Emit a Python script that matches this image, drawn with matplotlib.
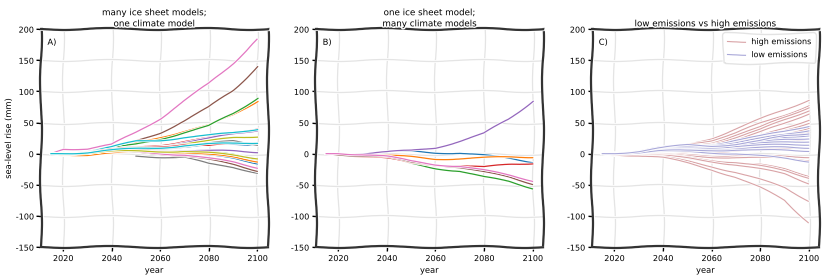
import matplotlib
matplotlib.use("Agg")
import matplotlib.pyplot as plt
import matplotlib.patheffects as pe
import numpy as np

nan = np.nan

years = [2015, 2020, 2030, 2040, 2050, 2060, 2070, 2080, 2090, 2100]

# A) many ice sheet models, one climate model (mm)
many_ice = [
    [0, 2, 3, 4, 6, 9, 11, 13, 14, 15],
    [0, 1, 2, 8, 17, 27, 36, 45, 62, 85],
    [0, 2, 3, 8, 15, 24, 34, 44, 64, 90],
    [0, 1, 3, 6, 10, 14, 20, 25, 32, 41],
    [0, 1, 2, 5, 8, 12, 18, 24, 31, 38],
    [0, 2, 4, 10, 20, 34, 53, 74, 102, 140],
    [0, 8, 8, 14, 34, 57, 85, 112, 146, 183],
    [nan, nan, nan, nan, -4, -5, -6, -17, -22, -30],
    [0, -1, -2, 2, 8, 12, 16, 20, 25, 28],
    [0, 2, 3, 10, 20, 22, 26, 29, 33, 40],
    [0, 2, 3, 4, 3, 2, 1, -3, -8, -15],
    [0, -1, -2, 0, 2, 3, 2, -2, -6, -12],
    [0, 1, 2, 3, 4, 5, 5, 2, -2, -8],
    [0, 1, 3, 6, 9, 12, 15, 12, 16, 18],
    [0, 1, 2, 3, 4, 5, 5, 4, 4, 3],
    [0, 1, 2, 3, 2, 0, -3, -10, -18, -27],
    [0, 1, 2, 3, 3, 1, -2, -8, -14, -22],
    [0, 1, 2, 4, 6, 9, 12, 16, 20, 15],
    [0, 0, 1, 3, 4, 4, 4, 1, -3, -7],
    [0, 1, 2, 5, 8, 10, 13, 15, 16, 18],
]

# B) one ice sheet model, many climate models (mm)
many_climate = [
    [0, 0, 0, 2, 4, 2, 1, -3, -8, -13],
    [0, 0, -2, -4, -5, -8, -8, -7, -6, -5],
    [0, -1, -3, -7, -16, -23, -28, -38, -45, -55],
    [0, -1, -4, -8, -15, -18, -19, -22, -18, -15],
    [0, 0, 0, 2, 5, 10, 20, 32, 55, 85],
    [0, -1, -3, -6, -14, -17, -22, -30, -38, -48],
    [0, 1, -1, -5, -12, -17, -20, -27, -35, -43],
]

# C) high emissions vs low emissions (mm)
high_em = [
    [0, 2, 5, 9, 14, 25, 40, 55, 70, 87],
    [nan, nan, nan, nan, 15, 22, 33, 48, 62, 78],
    [0, 1, 4, 7, 11, 18, 30, 42, 58, 75],
    [0, 1, 3, 6, 10, 16, 26, 38, 54, 70],
    [0, 1, 3, 5, 8, 14, 22, 34, 48, 65],
    [0, 1, 2, 4, 7, 12, 18, 28, 40, 55],
    [0, 1, 2, 4, 6, 10, 15, 24, 36, 50],
    [0, 0, 2, 3, 5, 8, 12, 20, 30, 42],
    [0, 1, 3, 6, 10, 15, 20, 25, 30, 35],
    [0, 0, 1, 2, 3, 5, 8, 12, 18, 25],
    [0, 1, 2, 3, 5, 8, 10, 14, 18, 20],
    [0, 0, 1, 2, 2, 3, 5, 6, 8, 10],
    [0, 0, -1, -2, -2, -3, -3, -4, -5, -5],
    [0, 0, -1, -2, -4, -5, -6, -7, -8, -10],
    [0, -1, -2, -4, -8, -12, -15, -18, -25, -35],
    [0, -1, -2, -3, -6, -10, -14, -20, -28, -38],
    [0, -1, -2, -4, -7, -12, -18, -25, -33, -47],
    [0, -1, -3, -6, -12, -20, -30, -42, -55, -75],
    [0, -1, -3, -7, -15, -25, -38, -55, -75, -110],
]
low_em = [
    [0, 2, 5, 9, 12, 15, 22, 28, 35, 45],
    [0, 2, 5, 10, 12, 14, 18, 24, 30, 38],
    [0, 2, 4, 8, 10, 12, 15, 20, 25, 30],
    [0, 2, 4, 7, 9, 11, 14, 18, 22, 25],
    [0, 1, 4, 8, 10, 12, 14, 16, 18, 20],
    [0, 1, 3, 6, 8, 10, 12, 13, 14, 15],
    [0, 1, 3, 5, 6, 7, 8, 9, 10, 10],
    [0, 0, 2, 3, 3, 2, 0, -4, -8, -12],
    [0, 1, 2, 4, 5, 6, 6, 5, 5, 5],
    [0, 1, 4, 9, 14, 13, 15, 20, 28, 33],
]

titles = ["many ice sheet models;\none climate model",
          "one ice sheet model;\nmany climate models",
          "low emissions vs high emissions"]
panel_labels = ["A)", "B)", "C)"]

high_col = "#d9a3a6"
low_col = "#a9a8d9"

with plt.xkcd(scale=1, length=100, randomness=2):
    plt.rcParams["font.family"] = ["DejaVu Sans"]
    plt.rcParams["font.size"] = 6
    plt.rcParams["path.effects"] = [pe.withStroke(linewidth=2, foreground="w")]

    fig = plt.figure(figsize=(8.29, 2.77), dpi=100)
    lefts = [0.049, 0.381, 0.714]
    axes = [fig.add_axes([l, 0.108, 0.274, 0.787]) for l in lefts]

    for s in many_ice:
        axes[0].plot(years, s, lw=0.9)
    for s in many_climate:
        axes[1].plot(years, s, lw=0.9)
    for i, s in enumerate(high_em):
        axes[2].plot(years, s, lw=0.8, color=high_col,
                     label="high emissions" if i == 0 else None)
    for i, s in enumerate(low_em):
        axes[2].plot(years, s, lw=0.8, color=low_col,
                     label="low emissions" if i == 0 else None)

    for ax, t, lab in zip(axes, titles, panel_labels):
        ax.set_ylim(-150, 200)
        ax.set_yticks(range(-150, 201, 50))
        ax.set_xticks([2020, 2040, 2060, 2080, 2100])
        ax.grid(True, color="#e4e4e4", lw=0.9)
        ax.set_axisbelow(True)
        ax.set_title(t, fontsize=6.3, pad=2, linespacing=1.3)
        ax.set_xlabel("year", fontsize=6, labelpad=2)
        ax.tick_params(labelsize=5.8, length=3, width=1, pad=2)
        for sp in ax.spines.values():
            sp.set_linewidth(1.6)
            sp.set_color("#333333")
        ax.text(0.03, 0.96, lab, transform=ax.transAxes, fontsize=6,
                ha="left", va="top")

    axes[0].set_ylabel("sea-level rise (mm)", fontsize=6, labelpad=2)
    axes[2].legend(loc="upper right", fontsize=5.8, frameon=True,
                   edgecolor="#dddddd", handlelength=2.2, borderpad=0.5)

    fig.savefig("out.png", dpi=100, facecolor="white")
